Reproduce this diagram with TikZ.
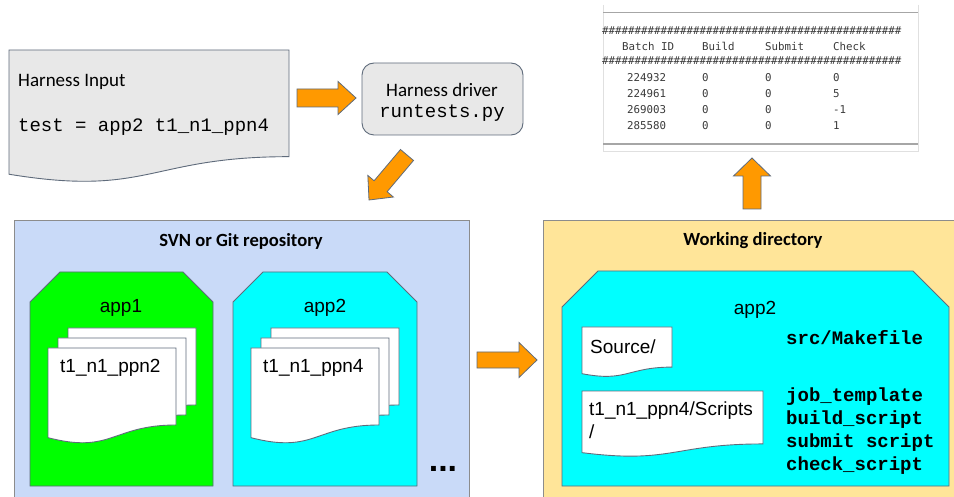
\documentclass[tikz,border=0pt]{standalone}
\usepackage{fontspec}
\setmainfont{Liberation Sans}
\newfontfamily\calfont{Carlito}
\newfontfamily\courfont{Liberation Mono}
\newfontfamily\tabfont{DejaVu Sans Mono}
\usetikzlibrary{calc}
\definecolor{docgray}{HTML}{E8E8E8}
\definecolor{lineblue}{HTML}{5F6B7B}
\definecolor{arroworange}{HTML}{FF9900}
\definecolor{svnblue}{HTML}{C9DAF8}
\definecolor{wdyellow}{HTML}{FFE599}
\definecolor{appgreen}{HTML}{00FF00}
\definecolor{appcyan}{HTML}{00FFFF}
\definecolor{tabtext}{HTML}{3A3A3A}
\tikzset{
  shapeline/.style={draw=lineblue, line width=0.9pt, line join=miter},
  boxline/.style={draw=black!45, line width=0.8pt},
  orangearrow/.style={fill=arroworange, draw=lineblue, line width=0.8pt, line join=miter},
  caltext/.style={font=\calfont\fontsize{19}{23}\selectfont, inner sep=0pt},
  calbold/.style={font=\calfont\bfseries\fontsize{18.6}{22}\selectfont, inner sep=0pt},
  arialtext/.style={font=\fontsize{19}{23}\selectfont, inner sep=0pt},
  courtext/.style={font=\courfont\fontsize{19}{23}\selectfont, inner sep=0pt},
  courbold/.style={font=\courfont\bfseries\fontsize{19}{23}\selectfont, inner sep=0pt, align=left},
  tabcell/.style={font=\tabfont\fontsize{10.8}{13}\selectfont, text=tabtext, inner sep=0pt, anchor=west},
  tabrule/.style={draw=black!35, line width=1.3pt},
  tabthin/.style={draw=black!12, line width=0.8pt},
}
% document shape: name, x, y, w, h, fill
\newcommand{\docshape}[6]{%
  \filldraw[shapeline, fill=#6] (#2,#3) -- ({#2+#4},#3) -- ({#2+#4},{#3+0.802*#5})
    .. controls ({#2+0.5*#4},{#3+0.802*#5}) and ({#2+0.5*#4},{#3+1.107*#5}) .. (#2,{#3+0.934*#5}) -- cycle;
  \coordinate (#1) at (#2,#3);}
% snipped rectangle: name, x1, y1, x2, y2, cut, fill
\newcommand{\snipshape}[7]{%
  \filldraw[shapeline, fill=#7] (#2,#5) -- (#2,{#3+#6}) -- ({#2+#6},#3) -- ({#4-#6},#3) -- (#4,{#3+#6}) -- (#4,#5) -- cycle;
  \coordinate (#1) at ({0.5*(#2+#4)},#3);}
% block arrow between two named coordinates: tail, tip, body half, head half, head length
\newcommand{\blockarrow}[5]{%
  \coordinate (bn) at ($(#2)!#5!(#1)$);
  \filldraw[orangearrow] ($(#1)!#3!90:(#2)$) -- ($(bn)!#3!-90:(#1)$) -- ($(bn)!#4!-90:(#1)$) -- (#2)
    -- ($(bn)!#4!90:(#1)$) -- ($(bn)!#3!90:(#1)$) -- ($(#1)!#3!-90:(#2)$) -- cycle;}
\begin{document}
\begin{tikzpicture}[x=1pt, y=-1pt]
\useasboundingbox (0,0) rectangle (954,497);
\clip (0,0) rectangle (954,497);
\fill[white] (0,0) rectangle (954,497);

% ---------- Harness input ----------
\docshape{inputdoc}{9}{50}{280}{133}{docgray}
\node[caltext, anchor=west] (inputtitle) at (18,82) {Harness Input};
\node[courtext, anchor=west] (inputtest) at (18,127) {test = app2 t1\_n1\_ppn4};

% ---------- Harness driver ----------
\filldraw[shapeline, fill=docgray, rounded corners=12pt] (362,63) rectangle (523,135);
\coordinate (driver) at (442,99);
\node[caltext] (drivertitle) at (442,90) {Harness driver};
\node[courtext] (driverpy) at (442,113) {runtests.py};

% ---------- Results table ----------
\draw[tabthin] (603,5) -- (603,152);
\draw[tabthin] (918,5) -- (918,152);
\draw[tabrule] (603,12.5) -- (918,12.5);
\draw[tabrule] (603,144) -- (918,144);
\draw[tabthin] (603,151.5) -- (918,151.5);
\node[tabcell] (hash1) at (602,31) {\#\#\#\#\#\#\#\#\#\#\#\#\#\#\#\#\#\#\#\#\#\#\#\#\#\#\#\#\#\#\#\#\#\#\#\#\#\#\#\#\#\#\#\#\#\#};
\node[tabcell] (hBatch) at (622,46) {Batch ID};
\node[tabcell] (hBuild) at (702,46) {Build};
\node[tabcell] (hSubmit) at (765,46) {Submit};
\node[tabcell] (hCheck) at (833,46) {Check};
\node[tabcell] (hash2) at (602,61) {\#\#\#\#\#\#\#\#\#\#\#\#\#\#\#\#\#\#\#\#\#\#\#\#\#\#\#\#\#\#\#\#\#\#\#\#\#\#\#\#\#\#\#\#\#\#};
\foreach \id/\chk/\yy [count=\i] in {224932/0/78, 224961/5/94, 269003/-1/109.5, 285580/1/126}{
  \node[tabcell] (rid\i) at (627,\yy) {\id};
  \node[tabcell] (rbuild\i) at (702,\yy) {0};
  \node[tabcell] (rsub\i) at (765,\yy) {0};
  \node[tabcell] (rchk\i) at (833,\yy) {\chk};
}

% ---------- SVN repository ----------
\filldraw[boxline, fill=svnblue] (14,220) rectangle (469,520);
\node[calbold] (svntitle) at (241,241) {SVN or Git repository};
\snipshape{app1}{30}{272}{213}{486}{30}{appgreen}
\node[arialtext] (app1label) at (121,308) {app1};
\docshape{d1c}{68}{328}{128}{96}{white}
\docshape{d1b}{58}{338}{128}{96}{white}
\docshape{d1a}{48}{348}{128}{96}{white}
\node[arialtext, anchor=west] (ppn2) at (60,368) {t1\_n1\_ppn2};
\snipshape{app2}{233}{272}{417}{486}{30}{appcyan}
\node[arialtext] (app2label) at (325,308) {app2};
\docshape{d2c}{271}{328}{128}{96}{white}
\docshape{d2b}{261}{338}{128}{96}{white}
\docshape{d2a}{251}{348}{128}{96}{white}
\node[arialtext, anchor=west] (ppn4) at (263,368) {t1\_n1\_ppn4};
\node[font=\bfseries\fontsize{34}{36}\selectfont, inner sep=0pt, anchor=base] (dots) at (443,471) {...};

% ---------- Working directory ----------
\filldraw[boxline, fill=wdyellow] (543,220) rectangle (970,520);
\node[calbold] (wdtitle) at (753,241) {Working directory};
\snipshape{wapp2}{562}{271}{949}{486}{36}{appcyan}
\node[arialtext] (wapp2label) at (755,310) {app2};
\docshape{srcdoc}{582}{327}{90}{50}{white}
\node[arialtext, anchor=west] (srclabel) at (590,347) {Source/};
\docshape{scrdoc}{582}{391}{181}{66}{white}
\node[arialtext, anchor=north west, align=left] (scrlabel) at (589,402) {t1\_n1\_ppn4/Scripts\\/};
\node[courbold, anchor=west] (makefile) at (786,338) {src/Makefile};
\node[courbold, anchor=north west] (scripts) at (786,387.5) {job\_template\\build\_script\\submit script\\check\_script};

% ---------- Block arrows ----------
\coordinate (a1t) at (297,98);   \coordinate (a1h) at (356,98);
\coordinate (a2t) at (407,155);  \coordinate (a2h) at (369,200);
\coordinate (a3t) at (477,360);  \coordinate (a3h) at (537,360);
\coordinate (a4t) at (752,209);  \coordinate (a4h) at (752,158);
\blockarrow{a1t}{a1h}{9pt}{16.5pt}{18pt}
\blockarrow{a2t}{a2h}{8.5pt}{16.7pt}{18pt}
\blockarrow{a3t}{a3h}{8pt}{17.5pt}{18pt}
\blockarrow{a4t}{a4h}{9pt}{18.5pt}{18pt}
\end{tikzpicture}
\end{document}
